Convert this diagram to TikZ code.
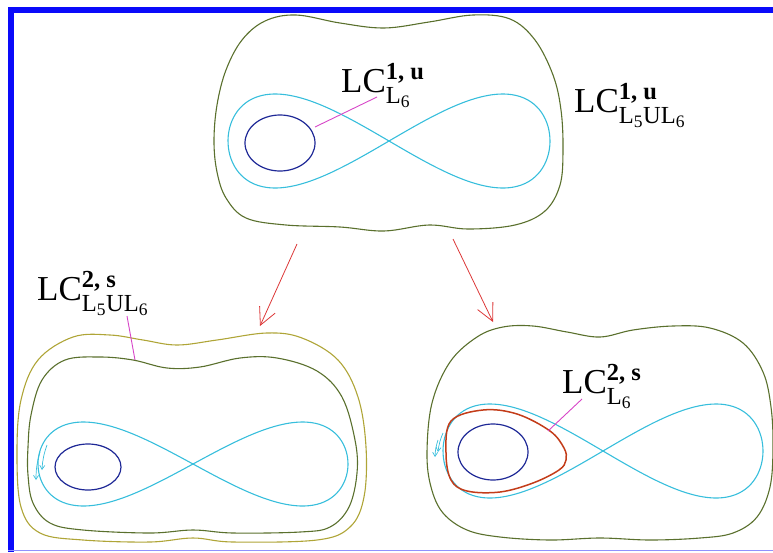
\documentclass[tikz,border=0pt]{standalone}
\usepackage{amsmath}
\usepackage{fontspec}
\setmainfont{Liberation Serif}
\usepackage{tikz}
\usetikzlibrary{arrows.meta}
\usepackage{xcolor}

\definecolor{frameblue}{RGB}{10,10,250}
\definecolor{orbgreen}{RGB}{90,112,45}
\definecolor{orbolive}{RGB}{175,165,55}
\definecolor{orbcyan}{RGB}{55,190,220}
\definecolor{orbblue}{RGB}{30,40,150}
\definecolor{orbred}{RGB}{195,60,25}
\definecolor{leadpink}{RGB}{215,70,200}
\definecolor{flowred}{RGB}{220,55,55}

\newcommand{\lcname}[2]{LC$^{\textbf{#1}}_{#2}$}

\begin{document}
\begin{tikzpicture}[x=1pt,y=-1pt,
		outer/.style={orbgreen, line width=1.1pt},
		halo/.style={orbolive, line width=1.1pt},
		eight/.style={orbcyan, line width=1.1pt},
		inner/.style={orbblue, line width=1.2pt},
		leader/.style={leadpink, line width=0.9pt},
		flow/.style={flowred, line width=0.8pt, -{Straight Barb[length=17pt,width=17pt]}},
		tick/.style={orbcyan, line width=0.7pt, -{Straight Barb[length=4pt,width=5pt]}},
		lclabel/.style={inner sep=0pt, anchor=base west, font=\fontsize{35}{40}\selectfont}]
				\useasboundingbox (0,0) rectangle (773,552);
				
				% Frame
				\draw[frameblue, line width=6pt] (11,552) -- (11,10) -- (773,10);
				\draw[frameblue!45, line width=1.5pt] (8,550.5) -- (773,550.5);
				
				% Top box
				\draw[outer] plot[smooth cycle, tension=0.6] coordinates {(214,141) (217,105) (226,70) (242,40) (265,21) (296,15) (340,23) (384,28) (429,22) (473,15) (510,19) (535,40) (553,75) (561,110) (563,150) (560,185) (545,211) (515,225) (468,229) (429,225) (384,231) (340,227) (286,225) (246,218) (226,198) (217,172)};
				\draw[eight] plot[domain=0:360, samples=150, smooth cycle] ({389+161*sin(\x)},{141+47*sin(2*\x)});
				\draw[inner] (280,143) ellipse [x radius=35, y radius=28];
				
				% Labels top
				\node[lclabel] (lcTopIn) at (341,92) {\lcname{1, u}{\text{L}_{\text{6}}}};
				\node[lclabel] (lcTopOut) at (574,112) {\lcname{1, u}{\text{L}_{\text{5}}\text{U}\text{L}_{\text{6}}}};
				\coordinate (pinTopA) at (377,97);
				\coordinate (pinTopB) at (315,127);
				\draw[leader] (pinTopA) -- (pinTopB);
				
				% Arrows
				\coordinate (flowLs) at (297,244);
				\coordinate (flowLe) at (260,326);
				\coordinate (flowRs) at (453,239);
				\coordinate (flowRe) at (493,322);
				\draw[flow] (flowLs) -- (flowLe);
				\draw[flow] (flowRs) -- (flowRe);
				
				% Bottom left box
				\draw[halo] plot[smooth cycle, tension=0.6] coordinates {(17,453) (21,400) (38,360) (73,337) (110,335) (143,340) (177,345) (217,340) (267,333) (302,338) (338,360) (358,397) (366,447) (364,497) (350,527) (317,540) (233,542) (193,538) (150,542) (83,540) (40,533) (21,507)};
				\draw[outer] plot[smooth cycle, tension=0.6] coordinates {(28,447) (31,415) (42,380) (65,360) (100,357) (133,360) (167,368) (200,367) (240,358) (277,358) (317,371) (342,397) (355,440) (357,473) (349,507) (330,527) (300,532) (233,533) (193,530) (150,533) (83,530) (50,523) (33,503) (28,475)};
				\draw[eight] plot[domain=0:360, samples=150, smooth cycle] ({193+155*sin(\x)},{464+42*sin(2*\x)});
				\draw[inner] (88,467) ellipse [x radius=33, y radius=23];
				\draw[tick] (47,445) to[bend right=8] (42,470);
				\draw[tick] (40,452) to[bend right=8] (36,480);
				
				\node[lclabel] (lcLeft) at (37,300) {\lcname{2, s}{\text{L}_{\text{5}}\text{U}\text{L}_{\text{6}}}};
				\coordinate (pinLeftA) at (127,316);
				\coordinate (pinLeftB) at (135,360);
				\draw[leader] (pinLeftA) -- (pinLeftB);
				
				% Bottom right box
				\draw[outer] plot[smooth cycle, tension=0.6] coordinates {(427,453) (432,403) (450,362) (477,337) (503,327) (533,326) (567,332) (600,337) (633,330) (673,326) (710,328) (743,343) (763,372) (771,407) (773,447) (770,487) (757,517) (733,533) (700,538) (650,540) (600,538) (550,540) (500,537) (467,530) (443,513) (431,487)};
				\draw[eight] plot[domain=0:360, samples=150, smooth cycle] ({603+160*sin(\x)},{451+47*sin(2*\x)});
				\draw[orbred, line width=1.5pt] plot[smooth cycle, tension=0.6] coordinates {(446,453) (451,421) (483,410) (517,414) (550,431) (564,448) (566,460) (559,470) (533,483) (500,492) (467,491) (451,480)};
				\draw[inner] (493,452) ellipse [x radius=35, y radius=28];
				\draw[tick] (443,433) to[bend right=8] (438,452);
				\draw[tick] (438,440) to[bend right=8] (435,457);
				
				\node[lclabel] (lcRight) at (562,393) {\lcname{2, s}{\text{L}_{\text{6}}}};
				\coordinate (pinRightA) at (582,399);
				\coordinate (pinRightB) at (548,431);
				\draw[leader] (pinRightA) -- (pinRightB);
			\end{tikzpicture}
\end{document}
